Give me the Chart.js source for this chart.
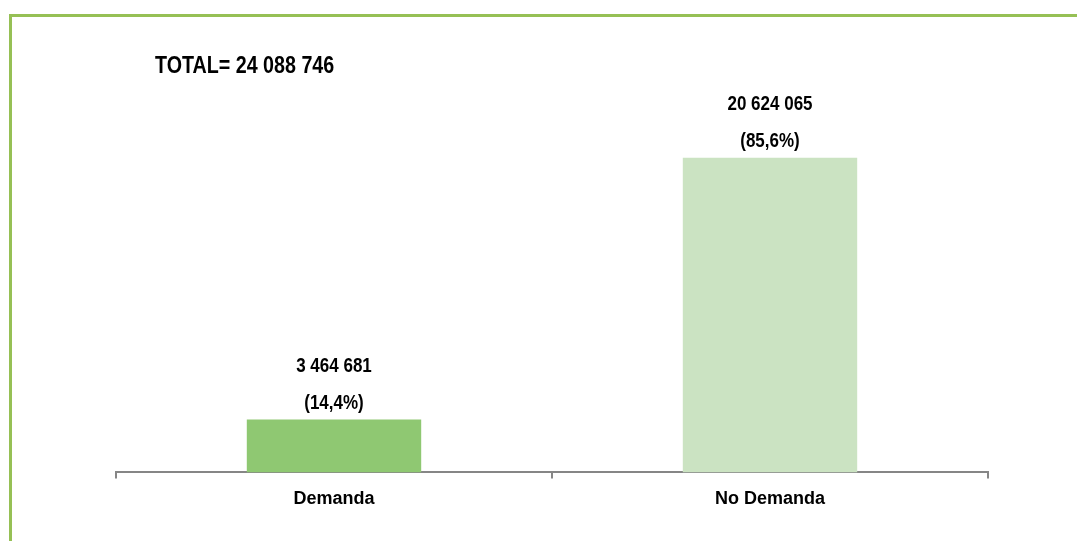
<!DOCTYPE html>
<html>
<head>
<meta charset="utf-8">
<script src="https://cdn.jsdelivr.net/npm/chart.js@4"></script>
<style>
  html, body { margin: 0; padding: 0; background: #fff; }
  #wrap { width: 1077px; height: 541px; position: relative; }
</style>
</head>
<body>
<div id="wrap"><canvas id="chartCanvas"></canvas></div>
<script>
const categories = ["Demanda", "No Demanda"];
const values = [3464681, 20624065];
const percents = ["(14,4%)", "(85,6%)"];
const valueLabels = ["3 464 681", "20 624 065"];
const totalLabel = "TOTAL= 24 088 746";
const barColors = ["#8fc872", "#cbe3c2"];

const fontFamily = "'Liberation Sans Narrow', 'Arial Narrow', 'Liberation Sans', Arial, sans-serif";

// texto estrecho: escala horizontal para imitar Arial Narrow
function narrowText(ctx, text, x, y, squeeze) {
  ctx.save();
  ctx.translate(x, y);
  ctx.scale(squeeze, 1);
  ctx.fillText(text, 0, 0);
  ctx.restore();
}

// marco verde + total + etiquetas encima de las barras
const extras = {
  id: "extras",
  beforeDraw(chart) {
    const ctx = chart.ctx;
    ctx.save();
    ctx.strokeStyle = "#96c055";
    ctx.lineWidth = 3;
    ctx.beginPath();
    ctx.moveTo(10.5, 541);
    ctx.lineTo(10.5, 15.5);
    ctx.lineTo(1077, 15.5);
    ctx.stroke();
    ctx.restore();
  },
  afterDatasetsDraw(chart) {
    const ctx = chart.ctx;
    ctx.save();
    ctx.fillStyle = "#000";
    ctx.textBaseline = "middle";
    ctx.font = "bold 24px " + fontFamily;
    ctx.textAlign = "left";
    narrowText(ctx, totalLabel, 155, 66, 0.82);
    ctx.textAlign = "center";
    ctx.font = "bold 20px " + fontFamily;
    chart.getDatasetMeta(0).data.forEach((bar, i) => {
      narrowText(ctx, percents[i], bar.x, bar.y - 16, 0.85);
      narrowText(ctx, valueLabels[i], bar.x, bar.y - 53, 0.85);
    });
    ctx.restore();
  }
};

const ctx = document.getElementById("chartCanvas").getContext("2d");
new Chart(ctx, {
  type: "bar",
  data: {
    labels: categories,
    datasets: [{
      data: values,
      backgroundColor: barColors,
      categoryPercentage: 1,
      barPercentage: 0.4
    }]
  },
  options: {
    responsive: true,
    maintainAspectRatio: false,
    animation: false,
    layout: { padding: { left: 116, right: 89, top: 30, bottom: 21 } },
    plugins: { legend: { display: false }, tooltip: { enabled: false } },
    scales: {
      x: {
        grid: { offset: true, drawOnChartArea: false, drawTicks: true, tickLength: 6, color: "#868686", lineWidth: 2 },
        border: { display: true, color: "#868686", width: 2 },
        ticks: { color: "#000", padding: 10, font: { family: fontFamily, size: 18, weight: "bold" } }
      },
      y: {
        display: false,
        min: 0,
        max: 29000000
      }
    }
  },
  plugins: [extras]
});
</script>
</body>
</html>
